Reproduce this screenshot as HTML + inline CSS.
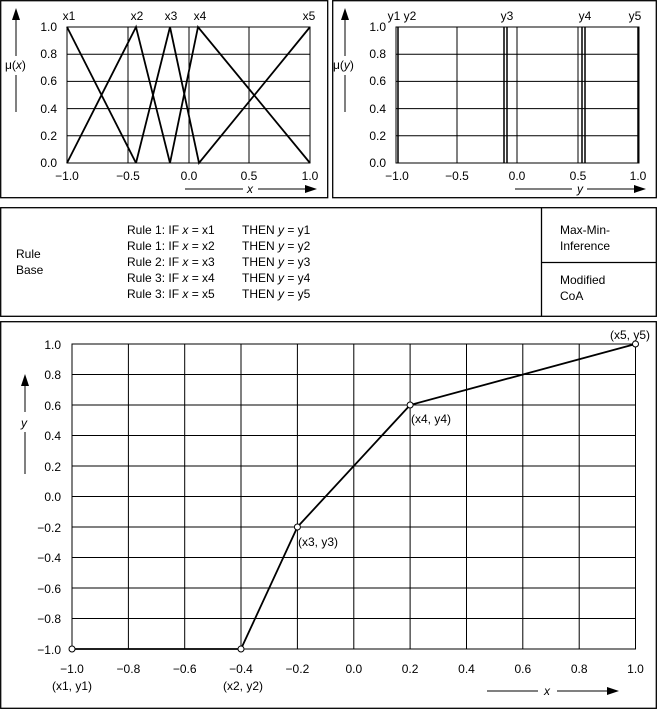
<!DOCTYPE html>
<html><head><style>body{margin:0;background:#fff}svg{display:block;font-family:"Liberation Sans",sans-serif}</style></head><body>
<svg width="657" height="711" viewBox="0 0 657 711" xmlns="http://www.w3.org/2000/svg" font-size="12" fill="#000">
<g fill="none" stroke="#000" stroke-width="1.3">
<rect x="0.7" y="0.7" width="327" height="197"/>
<rect x="332.7" y="0.7" width="323.6" height="197"/>
<rect x="0.7" y="207.7" width="655.6" height="108.6"/>
<line x1="541.5" y1="208" x2="541.5" y2="316"/>
<line x1="541.5" y1="262.5" x2="656" y2="262.5"/>
<rect x="0.7" y="321.7" width="655.6" height="386.6"/>
</g>
<!-- top-left plot -->
<g stroke="#000" stroke-width="1" fill="none">
<rect x="67" y="27" width="243" height="136"/>
<line x1="67" y1="54.2" x2="310" y2="54.2"/><line x1="67" y1="81.4" x2="310" y2="81.4"/><line x1="67" y1="108.6" x2="310" y2="108.6"/><line x1="67" y1="135.8" x2="310" y2="135.8"/>
<line x1="128" y1="27" x2="128" y2="163"/><line x1="189" y1="27" x2="189" y2="163"/><line x1="249" y1="27" x2="249" y2="163"/>
<polyline stroke-width="1.8" points="67,27 136,163"/>
<polyline stroke-width="1.8" points="67,163 136,27 170,163 198,27 310,163"/>
<polyline stroke-width="1.8" points="136,163 170,27 199,163 310,27"/>
<line x1="16" y1="112" x2="16" y2="75"/><line x1="16" y1="56" x2="16" y2="18"/>
<line x1="185" y1="189" x2="243" y2="189"/><line x1="258" y1="189" x2="307" y2="189"/>
</g>
<polygon points="16,8 12,20 20,20"/><polygon points="317,189 305,185 305,193"/>
<g text-anchor="middle">
<text x="69" y="20">x1</text><text x="137" y="20">x2</text><text x="171" y="20">x3</text><text x="200" y="20">x4</text><text x="309" y="20">x5</text>
<text x="67" y="180">−1.0</text><text x="128" y="180">−0.5</text><text x="189" y="180">0.0</text><text x="249" y="180">0.5</text><text x="310" y="180">1.0</text>
<text x="250" y="193" font-style="italic">x</text>
</g>
<g text-anchor="end"><text x="57" y="31">1.0</text><text x="57" y="58">0.8</text><text x="57" y="85">0.6</text><text x="57" y="113">0.4</text><text x="57" y="140">0.2</text><text x="57" y="167">0.0</text></g>
<text x="5" y="69">μ(<tspan font-style="italic">x</tspan>)</text>
<!-- top-right plot -->
<g stroke="#000" stroke-width="1" fill="none">
<rect x="396" y="27" width="243" height="136"/>
<line x1="396" y1="54.2" x2="639" y2="54.2"/><line x1="396" y1="81.4" x2="639" y2="81.4"/><line x1="396" y1="108.6" x2="639" y2="108.6"/><line x1="396" y1="135.8" x2="639" y2="135.8"/>
<line x1="457" y1="27" x2="457" y2="163"/><line x1="517" y1="27" x2="517" y2="163"/><line x1="578" y1="27" x2="578" y2="163"/>
<line x1="398" y1="27" x2="398" y2="163" stroke-width="1.5"/>
<line x1="504" y1="27" x2="504" y2="163" stroke-width="1.5"/><line x1="507" y1="27" x2="507" y2="163" stroke-width="1.5"/>
<line x1="582" y1="27" x2="582" y2="163" stroke-width="1.5"/><line x1="585" y1="27" x2="585" y2="163" stroke-width="1.5"/>
<line x1="638" y1="27" x2="638" y2="163" stroke-width="1.5"/>
<line x1="345" y1="112" x2="345" y2="75"/><line x1="345" y1="56" x2="345" y2="18"/>
<line x1="515" y1="189" x2="572" y2="189"/><line x1="587" y1="189" x2="636" y2="189"/>
</g>
<polygon points="345,8 341,20 349,20"/><polygon points="646,189 634,185 634,193"/>
<g text-anchor="middle">
<text x="394" y="20">y1</text><text x="410" y="20">y2</text><text x="507" y="20">y3</text><text x="585" y="20">y4</text><text x="635" y="20">y5</text>
<text x="397" y="180">−1.0</text><text x="457" y="180">−0.5</text><text x="517" y="180">0.0</text><text x="578" y="180">0.5</text><text x="638" y="180">1.0</text>
<text x="580" y="193" font-style="italic">y</text>
</g>
<g text-anchor="end"><text x="386" y="31">1.0</text><text x="386" y="58">0.8</text><text x="386" y="85">0.6</text><text x="386" y="113">0.4</text><text x="386" y="140">0.2</text><text x="386" y="167">0.0</text></g>
<text x="333" y="69">μ(<tspan font-style="italic">y</tspan>)</text>
<!-- rule base -->
<text x="16" y="258">Rule</text><text x="16" y="274">Base</text>
<g>
<text x="127" y="234">Rule 1: IF <tspan font-style="italic">x</tspan> = x1</text><text x="242" y="234">THEN <tspan font-style="italic">y</tspan> = y1</text>
<text x="127" y="250">Rule 1: IF <tspan font-style="italic">x</tspan> = x2</text><text x="242" y="250">THEN <tspan font-style="italic">y</tspan> = y2</text>
<text x="127" y="266">Rule 2: IF <tspan font-style="italic">x</tspan> = x3</text><text x="242" y="266">THEN <tspan font-style="italic">y</tspan> = y3</text>
<text x="127" y="282">Rule 3: IF <tspan font-style="italic">x</tspan> = x4</text><text x="242" y="282">THEN <tspan font-style="italic">y</tspan> = y4</text>
<text x="127" y="298">Rule 3: IF <tspan font-style="italic">x</tspan> = x5</text><text x="242" y="298">THEN <tspan font-style="italic">y</tspan> = y5</text>
</g>
<text x="560" y="234">Max-Min-</text><text x="560" y="250">Inference</text>
<text x="560" y="284">Modified</text><text x="560" y="300">CoA</text>
<!-- bottom plot -->
<g stroke="#000" stroke-width="1" fill="none">
<rect x="72" y="344" width="563.5" height="305"/>
<line x1="72" y1="374.5" x2="635.5" y2="374.5"/><line x1="72" y1="405" x2="635.5" y2="405"/><line x1="72" y1="435.5" x2="635.5" y2="435.5"/><line x1="72" y1="466" x2="635.5" y2="466"/><line x1="72" y1="496.5" x2="635.5" y2="496.5"/><line x1="72" y1="527" x2="635.5" y2="527"/><line x1="72" y1="557.5" x2="635.5" y2="557.5"/><line x1="72" y1="588" x2="635.5" y2="588"/><line x1="72" y1="618.5" x2="635.5" y2="618.5"/>
<line x1="128.4" y1="344" x2="128.4" y2="649"/><line x1="184.7" y1="344" x2="184.7" y2="649"/><line x1="241" y1="344" x2="241" y2="649"/><line x1="297.4" y1="344" x2="297.4" y2="649"/><line x1="353.8" y1="344" x2="353.8" y2="649"/><line x1="410.1" y1="344" x2="410.1" y2="649"/><line x1="466.5" y1="344" x2="466.5" y2="649"/><line x1="522.8" y1="344" x2="522.8" y2="649"/><line x1="579.2" y1="344" x2="579.2" y2="649"/>
<polyline stroke-width="1.8" points="72,649 241,649 297.4,527 410.1,405 635.5,344"/>
<line x1="25" y1="474" x2="25" y2="432"/><line x1="25" y1="412" x2="25" y2="386"/>
<line x1="487" y1="691" x2="538" y2="691"/><line x1="557" y1="691" x2="608" y2="691"/>
</g>
<g fill="#fff" stroke="#000" stroke-width="1"><circle cx="72" cy="649" r="3"/><circle cx="241" cy="649" r="3"/><circle cx="297.4" cy="527" r="3"/><circle cx="410.1" cy="405" r="3"/><circle cx="635.5" cy="344" r="3"/></g>
<polygon points="25,374 21,386 29,386"/><polygon points="619,691 607,687 607,695"/>
<g text-anchor="end"><text x="61" y="349">1.0</text><text x="61" y="379">0.8</text><text x="61" y="410">0.6</text><text x="61" y="440">0.4</text><text x="61" y="471">0.2</text><text x="61" y="501">0.0</text><text x="61" y="532">−0.2</text><text x="61" y="562">−0.4</text><text x="61" y="593">−0.6</text><text x="61" y="623">−0.8</text><text x="61" y="654">−1.0</text></g>
<g text-anchor="middle">
<text x="72" y="673">−1.0</text><text x="128.4" y="673">−0.8</text><text x="184.7" y="673">−0.6</text><text x="241" y="673">−0.4</text><text x="297.4" y="673">−0.2</text><text x="353.8" y="673">0.0</text><text x="410.1" y="673">0.2</text><text x="466.5" y="673">0.4</text><text x="522.8" y="673">0.6</text><text x="579.2" y="673">0.8</text><text x="635.5" y="673">1.0</text>
<text x="72" y="690">(x1, y1)</text><text x="243" y="690">(x2, y2)</text>
<text x="547" y="695" font-style="italic">x</text>
</g>
<text x="298" y="546">(x3, y3)</text>
<text x="411" y="423">(x4, y4)</text>
<text x="610" y="339">(x5, y5)</text>
<text x="21" y="427" font-style="italic">y</text>
</svg>
</body></html>
